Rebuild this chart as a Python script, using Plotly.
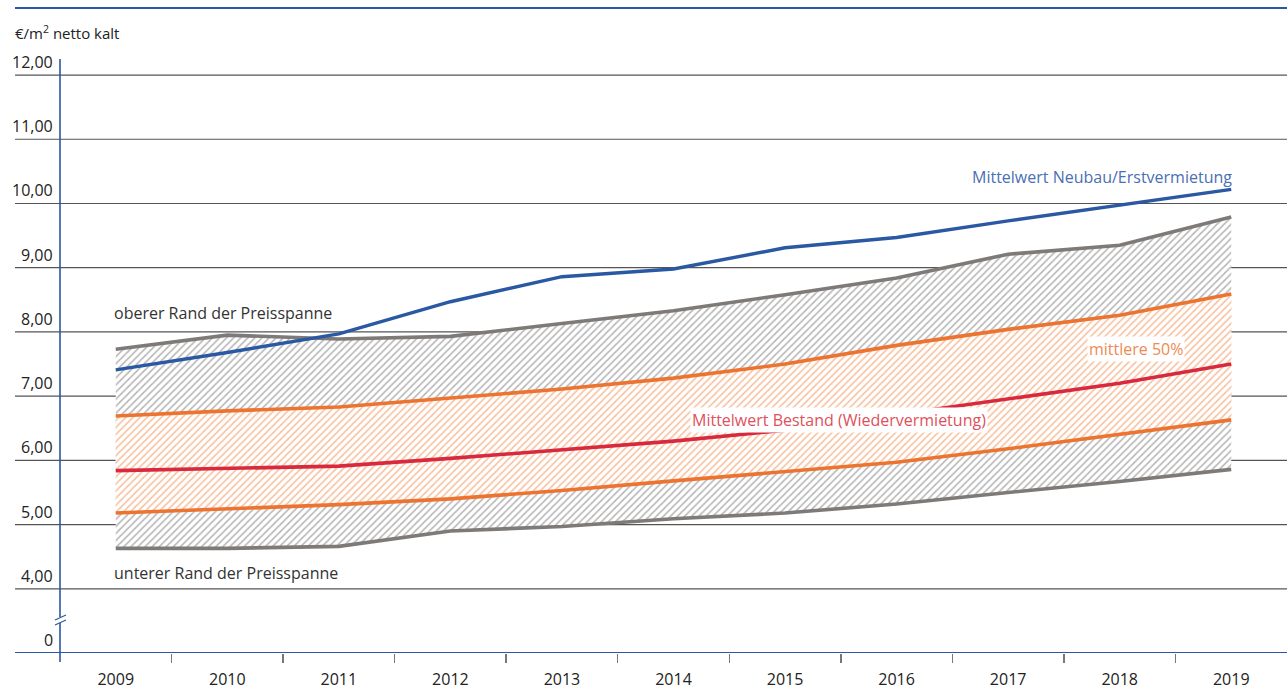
import plotly.graph_objects as go

# ---------------- data ----------------
years = [2009, 2010, 2011, 2012, 2013, 2014, 2015, 2016, 2017, 2018, 2019]
neubau_mean = [7.41, 7.68, 7.97, 8.47, 8.86, 8.98, 9.31, 9.47, 9.73, 9.98, 10.22]
range_upper = [7.73, 7.95, 7.89, 7.93, 8.13, 8.33, 8.58, 8.84, 9.21, 9.35, 9.79]
quartile_upper = [6.69, 6.77, 6.83, 6.97, 7.11, 7.28, 7.50, 7.79, 8.04, 8.26, 8.59]
bestand_mean = [5.84, 5.87, 5.91, 6.03, 6.16, 6.30, 6.47, 6.71, 6.96, 7.20, 7.50]
quartile_lower = [5.18, 5.24, 5.31, 5.40, 5.53, 5.68, 5.82, 5.97, 6.18, 6.40, 6.63]
range_lower = [4.63, 4.63, 4.66, 4.90, 4.97, 5.09, 5.18, 5.32, 5.50, 5.67, 5.86]

ytick_vals = [3, 4, 5, 6, 7, 8, 9, 10, 11, 12]
ytick_text = ["0", "4,00", "5,00", "6,00", "7,00", "8,00", "9,00", "10,00", "11,00", "12,00"]
year_boundaries = [2009.5, 2010.5, 2011.5, 2012.5, 2013.5, 2014.5, 2015.5, 2016.5, 2017.5, 2018.5]

# ---------------- style ----------------
BLUE = "#2a58a2"
BLUE_TXT = "#4a6fb2"
GRAY = "#7e7a78"
GRAY_HATCH = "#6e6e6e"
ORANGE = "#ec7430"
ORANGE_HATCH = "#ef8240"
ORANGE_TXT = "#f08a52"
RED = "#d9293d"
RED_TXT = "#e0505c"
GRID = "#555555"
FONT = "Open Sans"
FS = 16

W, H = 1287, 689
L, R, T, B = 60, 0, 59, 36
PW = W - L - R
PH = H - T - B


def px_x(px):
    return (px - L) / PW


def px_y(py):
    return 1 - (py - T) / PH


fig = go.Figure()

# hatched bands
fig.add_trace(go.Scatter(x=years, y=range_lower, mode="lines", line=dict(width=0),
                         hoverinfo="skip", showlegend=False))
fig.add_trace(go.Scatter(x=years, y=range_upper, mode="lines", line=dict(width=0),
                         fill="tonexty", fillcolor="rgba(0,0,0,0)",
                         fillpattern=dict(shape="/", fgcolor=GRAY_HATCH, bgcolor="white",
                                          size=5, solidity=0.32),
                         hoverinfo="skip", showlegend=False))
fig.add_trace(go.Scatter(x=years, y=quartile_lower, mode="lines", line=dict(width=0),
                         hoverinfo="skip", showlegend=False))
fig.add_trace(go.Scatter(x=years, y=quartile_upper, mode="lines", line=dict(width=0),
                         fill="tonexty", fillcolor="rgba(0,0,0,0)",
                         fillpattern=dict(shape="/", fgcolor=ORANGE_HATCH, bgcolor="white",
                                          size=5, solidity=0.32),
                         hoverinfo="skip", showlegend=False))

# lines
for ys, col, w in [(range_lower, GRAY, 3.6), (range_upper, GRAY, 3.6),
                   (quartile_lower, ORANGE, 3.6), (quartile_upper, ORANGE, 3.6),
                   (bestand_mean, RED, 3.6), (neubau_mean, BLUE, 3.4)]:
    fig.add_trace(go.Scatter(x=years, y=ys, mode="lines", line=dict(color=col, width=w),
                             hoverinfo="skip", showlegend=False))

shapes = []
annotations = []

# horizontal grid lines and y labels
for v, t in zip(ytick_vals, ytick_text):
    is_base = (v == ytick_vals[0])
    shapes.append(dict(type="line", xref="paper", yref="y", x0=px_x(15), x1=1, y0=v, y1=v,
                       line=dict(color=BLUE if is_base else GRID, width=2 if is_base else 1.2),
                       layer="below"))
    annotations.append(dict(xref="paper", yref="y", x=px_x(55), y=v, text=t, showarrow=False,
                            xanchor="right", yanchor="bottom", yshift=0,
                            font=dict(family=FONT, size=FS, color="#222222")))

# vertical axis line
shapes.append(dict(type="line", xref="paper", yref="paper", x0=0, x1=0,
                   y0=px_y(662), y1=1, line=dict(color=BLUE, width=1.6)))
# axis break
shapes.append(dict(type="line", xref="paper", yref="paper", x0=0, x1=0,
                   y0=px_y(623), y1=px_y(617), line=dict(color="white", width=3)))
shapes.append(dict(type="line", xref="paper", yref="paper", x0=px_x(55), x1=px_x(66),
                   y0=px_y(625), y1=px_y(620), line=dict(color=BLUE, width=1.2)))
shapes.append(dict(type="line", xref="paper", yref="paper", x0=px_x(55), x1=px_x(66),
                   y0=px_y(620), y1=px_y(615), line=dict(color=BLUE, width=1.2)))
# top rule
shapes.append(dict(type="line", xref="paper", yref="paper", x0=px_x(15), x1=1,
                   y0=px_y(8), y1=px_y(8), line=dict(color=BLUE, width=2)))

# unit label
annotations.append(dict(xref="paper", yref="paper", x=px_x(13), y=px_y(32),
                        text="€/m<sup>2</sup> netto kalt", showarrow=False,
                        xanchor="left", yanchor="middle",
                        font=dict(family=FONT, size=FS - 1, color="#222222")))

# series labels
annotations.append(dict(x=2009, y=8.30, text="oberer Rand der Preisspanne", showarrow=False,
                        xanchor="left", yanchor="middle", xshift=-4,
                        font=dict(family=FONT, size=FS, color="#333333")))
annotations.append(dict(x=2009, y=4.25, text="unterer Rand der Preisspanne", showarrow=False,
                        xanchor="left", yanchor="middle", xshift=-4,
                        font=dict(family=FONT, size=FS, color="#333333")))
annotations.append(dict(x=2019, y=10.41, text="Mittelwert Neubau/Erstvermietung", showarrow=False,
                        xanchor="right", yanchor="middle", xshift=3,
                        font=dict(family=FONT, size=FS, color=BLUE_TXT)))
annotations.append(dict(x=2018.15, y=7.74, text="mittlere 50%", showarrow=False,
                        xanchor="center", yanchor="middle", bgcolor="white",
                        font=dict(family=FONT, size=FS, color=ORANGE_TXT)))
annotations.append(dict(x=2015.48, y=6.63, text="Mittelwert Bestand (Wiedervermietung)",
                        showarrow=False, xanchor="center", yanchor="middle", bgcolor="white",
                        font=dict(family=FONT, size=FS, color=RED_TXT)))

fig.update_layout(
    width=W, height=H, autosize=False,
    margin=dict(l=L, r=R, t=T, b=B, pad=0, autoexpand=False),
    paper_bgcolor="white", plot_bgcolor="white",
    shapes=shapes, annotations=annotations,
    hovermode=False, showlegend=False,
    xaxis=dict(range=[2008.5, 2019.5], tickvals=years, ticktext=[str(y) for y in years],
               ticks="outside", ticklen=0, showgrid=False, zeroline=False, showline=False,
               automargin=False, ticklabelstandoff=12,
               tickfont=dict(family=FONT, size=FS, color="#222222"),
               minor=dict(tickvals=year_boundaries, ticks="outside", ticklen=9,
                          tickwidth=1.5, tickcolor="#777777", showgrid=False)),
    yaxis=dict(range=[3, 12.25], showticklabels=False, ticks="", showgrid=False,
               zeroline=False, showline=False, automargin=False),
)

fig.write_html(
    "out.html",
    config={"responsive": False, "displayModeBar": False, "staticPlot": True},
    post_script="document.body.style.margin='0';document.body.style.overflow='hidden';",
)
